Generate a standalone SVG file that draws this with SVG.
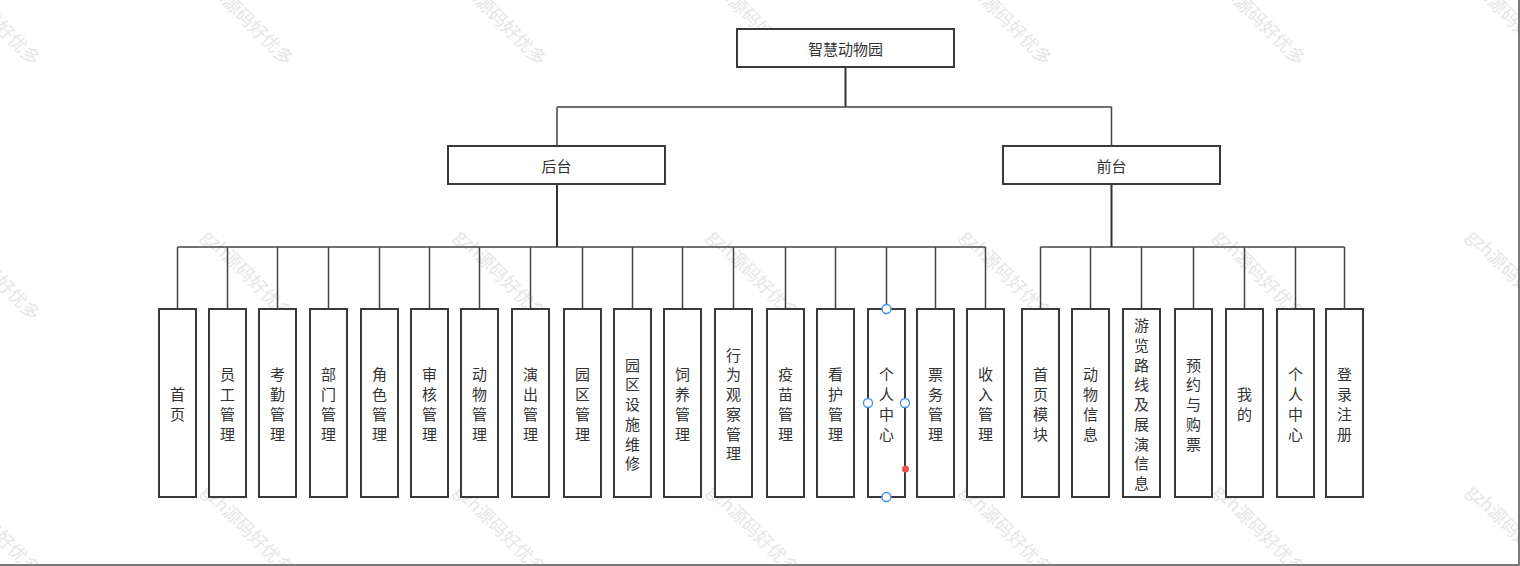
<svg xmlns="http://www.w3.org/2000/svg" width="1520" height="566" viewBox="0 0 1520 566">
<style>
.box{fill:#fff;stroke:#3a3a3a;stroke-width:2}
.lbl{font-family:"Noto Sans CJK SC","Noto Sans",sans-serif;font-size:15px;fill:#333;text-anchor:middle;dominant-baseline:central}
.wm{font-family:"Noto Sans CJK SC","Noto Sans",sans-serif;font-size:18px;fill:#e6e6e6}
.ln{fill:none;stroke:#444;stroke-width:1.5}
.st{fill:none;stroke:#333;stroke-width:2}
.hd{fill:#fff;stroke:#3d8ef0;stroke-width:1.3}
</style>
<defs>
<text id="w" class="wm" x="0" y="0" dy="6">gzh源码好优多</text>
</defs>
<rect x="0" y="0" width="1520" height="566" fill="#fff"/>
<g id="watermarks">
<use href="#w" transform="translate(-48,-22) rotate(45)"/>
<use href="#w" transform="translate(205,-22) rotate(45)"/>
<use href="#w" transform="translate(458,-22) rotate(45)"/>
<use href="#w" transform="translate(711,-22) rotate(45)"/>
<use href="#w" transform="translate(964,-22) rotate(45)"/>
<use href="#w" transform="translate(1217,-22) rotate(45)"/>
<use href="#w" transform="translate(1470,-22) rotate(45)"/>
<use href="#w" transform="translate(-48,233) rotate(45)"/>
<use href="#w" transform="translate(205,233) rotate(45)"/>
<use href="#w" transform="translate(458,233) rotate(45)"/>
<use href="#w" transform="translate(711,233) rotate(45)"/>
<use href="#w" transform="translate(964,233) rotate(45)"/>
<use href="#w" transform="translate(1217,233) rotate(45)"/>
<use href="#w" transform="translate(1470,233) rotate(45)"/>
<use href="#w" transform="translate(-48,488) rotate(45)"/>
<use href="#w" transform="translate(205,488) rotate(45)"/>
<use href="#w" transform="translate(458,488) rotate(45)"/>
<use href="#w" transform="translate(711,488) rotate(45)"/>
<use href="#w" transform="translate(964,488) rotate(45)"/>
<use href="#w" transform="translate(1217,488) rotate(45)"/>
<use href="#w" transform="translate(1470,488) rotate(45)"/>
</g>
<g id="connectors">
<path class="st" d="M845.5 67V107"/>
<path class="ln" d="M557 107H1111.5M557 107V146M1111.5 107V146"/>
<path class="st" d="M557 184V247M1111.5 184V247"/>
<path class="ln" d="M177.5 247H985.5M1040.5 247H1344.5"/>
<path class="ln" d="M177.5 247V309M227.5 247V309M277.5 247V309M328.5 247V309M379.5 247V309M429.5 247V309M479.5 247V309M530.5 247V309M582.5 247V309M632.5 247V309M682.5 247V309M733.5 247V309M785.5 247V309M835.5 247V309M886.5 247V309M935.5 247V309M985.5 247V309"/>
<path class="ln" d="M1040.5 247V309M1090.5 247V309M1141.5 247V309M1193.5 247V309M1244.5 247V309M1295.5 247V309M1344.5 247V309"/>
</g>
<g id="root"><rect class="box" x="737" y="29" width="217" height="38"/><text class="lbl" x="845.5" y="48">智慧动物园</text></g>
<g id="backend"><rect class="box" x="448" y="146" width="217" height="38"/><text class="lbl" x="556.5" y="165">后台</text></g>
<g id="frontend"><rect class="box" x="1003" y="146" width="217" height="38"/><text class="lbl" x="1111.5" y="165">前台</text></g>

<g id="b1"><rect class="box" x="159" y="309" width="37" height="188"/><text class="lbl"><tspan x="177.5" y="393.1">首</tspan><tspan x="177.5" y="412.9">页</tspan></text></g>
<g id="b2"><rect class="box" x="209" y="309" width="37" height="188"/><text class="lbl"><tspan x="227.5" y="373.4">员</tspan><tspan x="227.5" y="393.1">工</tspan><tspan x="227.5" y="412.9">管</tspan><tspan x="227.5" y="432.6">理</tspan></text></g>
<g id="b3"><rect class="box" x="259" y="309" width="37" height="188"/><text class="lbl"><tspan x="277.5" y="373.4">考</tspan><tspan x="277.5" y="393.1">勤</tspan><tspan x="277.5" y="412.9">管</tspan><tspan x="277.5" y="432.6">理</tspan></text></g>
<g id="b4"><rect class="box" x="310" y="309" width="37" height="188"/><text class="lbl"><tspan x="328.5" y="373.4">部</tspan><tspan x="328.5" y="393.1">门</tspan><tspan x="328.5" y="412.9">管</tspan><tspan x="328.5" y="432.6">理</tspan></text></g>
<g id="b5"><rect class="box" x="361" y="309" width="37" height="188"/><text class="lbl"><tspan x="379.5" y="373.4">角</tspan><tspan x="379.5" y="393.1">色</tspan><tspan x="379.5" y="412.9">管</tspan><tspan x="379.5" y="432.6">理</tspan></text></g>
<g id="b6"><rect class="box" x="411" y="309" width="37" height="188"/><text class="lbl"><tspan x="429.5" y="373.4">审</tspan><tspan x="429.5" y="393.1">核</tspan><tspan x="429.5" y="412.9">管</tspan><tspan x="429.5" y="432.6">理</tspan></text></g>
<g id="b7"><rect class="box" x="461" y="309" width="37" height="188"/><text class="lbl"><tspan x="479.5" y="373.4">动</tspan><tspan x="479.5" y="393.1">物</tspan><tspan x="479.5" y="412.9">管</tspan><tspan x="479.5" y="432.6">理</tspan></text></g>
<g id="b8"><rect class="box" x="512" y="309" width="37" height="188"/><text class="lbl"><tspan x="530.5" y="373.4">演</tspan><tspan x="530.5" y="393.1">出</tspan><tspan x="530.5" y="412.9">管</tspan><tspan x="530.5" y="432.6">理</tspan></text></g>
<g id="b9"><rect class="box" x="564" y="309" width="37" height="188"/><text class="lbl"><tspan x="582.5" y="373.4">园</tspan><tspan x="582.5" y="393.1">区</tspan><tspan x="582.5" y="412.9">管</tspan><tspan x="582.5" y="432.6">理</tspan></text></g>
<g id="b10"><rect class="box" x="614" y="309" width="37" height="188"/><text class="lbl"><tspan x="632.5" y="363.5">园</tspan><tspan x="632.5" y="383.3">区</tspan><tspan x="632.5" y="403">设</tspan><tspan x="632.5" y="422.8">施</tspan><tspan x="632.5" y="442.5">维</tspan><tspan x="632.5" y="462.3">修</tspan></text></g>
<g id="b11"><rect class="box" x="664" y="309" width="37" height="188"/><text class="lbl"><tspan x="682.5" y="373.4">饲</tspan><tspan x="682.5" y="393.1">养</tspan><tspan x="682.5" y="412.9">管</tspan><tspan x="682.5" y="432.6">理</tspan></text></g>
<g id="b12"><rect class="box" x="715" y="309" width="37" height="188"/><text class="lbl"><tspan x="733.5" y="353.6">行</tspan><tspan x="733.5" y="373.4">为</tspan><tspan x="733.5" y="393.1">观</tspan><tspan x="733.5" y="412.9">察</tspan><tspan x="733.5" y="432.6">管</tspan><tspan x="733.5" y="452.4">理</tspan></text></g>
<g id="b13"><rect class="box" x="767" y="309" width="37" height="188"/><text class="lbl"><tspan x="785.5" y="373.4">疫</tspan><tspan x="785.5" y="393.1">苗</tspan><tspan x="785.5" y="412.9">管</tspan><tspan x="785.5" y="432.6">理</tspan></text></g>
<g id="b14"><rect class="box" x="817" y="309" width="37" height="188"/><text class="lbl"><tspan x="835.5" y="373.4">看</tspan><tspan x="835.5" y="393.1">护</tspan><tspan x="835.5" y="412.9">管</tspan><tspan x="835.5" y="432.6">理</tspan></text></g>
<g id="b15"><rect class="box" x="868" y="309" width="37" height="188"/><text class="lbl"><tspan x="886.5" y="373.4">个</tspan><tspan x="886.5" y="393.1">人</tspan><tspan x="886.5" y="412.9">中</tspan><tspan x="886.5" y="432.6">心</tspan></text></g>
<g id="b16"><rect class="box" x="917" y="309" width="37" height="188"/><text class="lbl"><tspan x="935.5" y="373.4">票</tspan><tspan x="935.5" y="393.1">务</tspan><tspan x="935.5" y="412.9">管</tspan><tspan x="935.5" y="432.6">理</tspan></text></g>
<g id="b17"><rect class="box" x="967" y="309" width="37" height="188"/><text class="lbl"><tspan x="985.5" y="373.4">收</tspan><tspan x="985.5" y="393.1">入</tspan><tspan x="985.5" y="412.9">管</tspan><tspan x="985.5" y="432.6">理</tspan></text></g>

<g id="f1"><rect class="box" x="1022" y="309" width="37" height="188"/><text class="lbl"><tspan x="1040.5" y="373.4">首</tspan><tspan x="1040.5" y="393.1">页</tspan><tspan x="1040.5" y="412.9">模</tspan><tspan x="1040.5" y="432.6">块</tspan></text></g>
<g id="f2"><rect class="box" x="1072" y="309" width="37" height="188"/><text class="lbl"><tspan x="1090.5" y="373.4">动</tspan><tspan x="1090.5" y="393.1">物</tspan><tspan x="1090.5" y="412.9">信</tspan><tspan x="1090.5" y="432.6">息</tspan></text></g>
<g id="f3"><rect class="box" x="1123" y="309" width="37" height="188"/><text class="lbl"><tspan x="1141.5" y="324">游</tspan><tspan x="1141.5" y="343.8">览</tspan><tspan x="1141.5" y="363.5">路</tspan><tspan x="1141.5" y="383.3">线</tspan><tspan x="1141.5" y="403">及</tspan><tspan x="1141.5" y="422.8">展</tspan><tspan x="1141.5" y="442.5">演</tspan><tspan x="1141.5" y="462.3">信</tspan><tspan x="1141.5" y="482">息</tspan></text></g>
<g id="f4"><rect class="box" x="1175" y="309" width="37" height="188"/><text class="lbl"><tspan x="1193.5" y="363.5">预</tspan><tspan x="1193.5" y="383.3">约</tspan><tspan x="1193.5" y="403">与</tspan><tspan x="1193.5" y="422.8">购</tspan><tspan x="1193.5" y="442.5">票</tspan></text></g>
<g id="f5"><rect class="box" x="1226" y="309" width="37" height="188"/><text class="lbl"><tspan x="1244.5" y="393.1">我</tspan><tspan x="1244.5" y="412.9">的</tspan></text></g>
<g id="f6"><rect class="box" x="1277" y="309" width="37" height="188"/><text class="lbl"><tspan x="1295.5" y="373.4">个</tspan><tspan x="1295.5" y="393.1">人</tspan><tspan x="1295.5" y="412.9">中</tspan><tspan x="1295.5" y="432.6">心</tspan></text></g>
<g id="f7"><rect class="box" x="1326" y="309" width="37" height="188"/><text class="lbl"><tspan x="1344.5" y="373.4">登</tspan><tspan x="1344.5" y="393.1">录</tspan><tspan x="1344.5" y="412.9">注</tspan><tspan x="1344.5" y="432.6">册</tspan></text></g>

<g id="selection">
<circle class="hd" cx="886.5" cy="309" r="4.5"/>
<circle class="hd" cx="886.5" cy="497" r="4.5"/>
<circle class="hd" cx="868" cy="403" r="4.5"/>
<circle class="hd" cx="905" cy="403" r="4.5"/>
<circle cx="905.5" cy="469" r="3.5" fill="#f0504a"/>
</g>
<g id="frame">
<rect x="1518" y="0" width="2" height="566" fill="#7a7a7a"/>
<rect x="0" y="564" width="1520" height="2" fill="#7a7a7a"/>
</g>
</svg>
